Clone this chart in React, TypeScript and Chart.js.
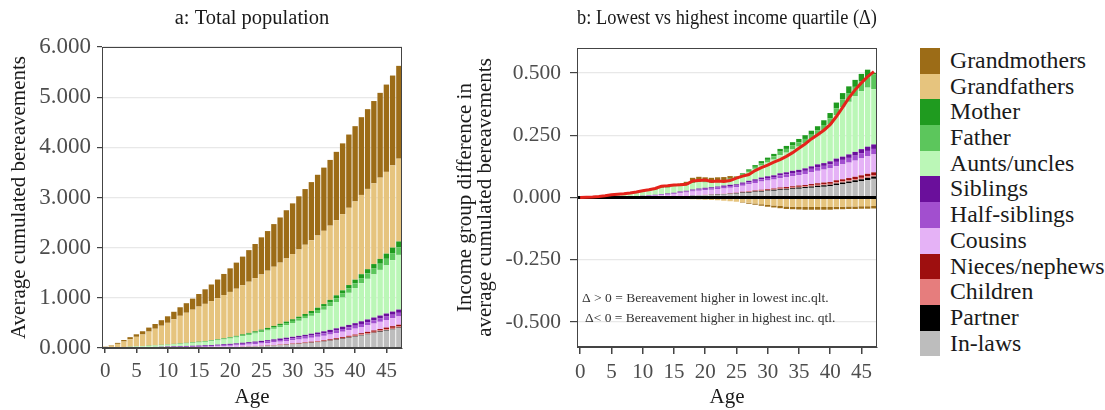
import React, { useEffect, useRef } from 'react';
import { Chart, registerables } from 'chart.js';

Chart.register(...registerables);

const FONT = "'Liberation Serif', 'Times New Roman', serif";

const AGES = ['0','1','2','3','4','5','6','7','8','9','10','11','12','13','14','15','16','17','18','19','20','21','22','23','24','25','26','27','28','29','30','31','32','33','34','35','36','37','38','39','40','41','42','43','44','45','46','47'];

const SERIES_NAMES = ['Grandmothers','Grandfathers','Mother','Father','Aunts/uncles','Siblings','Half-siblings','Cousins','Nieces/nephews','Children','Partner','In-laws'];
const SERIES_COLORS = ['#9c6c17','#e6c47e','#1f9b1f','#5cc65c','#bbf7b7','#6a0f9b','#a24fcf','#e5b2f6','#9e0f0f','#e67d7d','#000000','#bdbdbd'];

const TITLE_A = 'a: Total population';
const TITLE_B = 'b: Lowest vs highest income quartile (\u0394)';
const Y_TITLE_A = 'Average cumulated bereavements';
const Y_TITLE_B = ['Income group difference in', 'average cumulated bereavements'];
const X_TITLE = 'Age';
const Y_TICKS_A = [0, 1, 2, 3, 4, 5, 6];
const Y_TICKS_B = [-0.5, -0.25, 0, 0.25, 0.5];
const NOTE_LINES = ['\u0394 > 0 = Bereavement higher in lowest inc.qlt.', '\u0394< 0 = Bereavement higher in highest inc. qtl.'];

// ---- Panel a: total population (cumulated bereavements) ----
const aGrandmothers = [0.005,0.01,0.02,0.03,0.04,0.05,0.065,0.08,0.095,0.11,
  0.13,0.15,0.17,0.19,0.22,0.25,0.29,0.33,0.37,0.42,
  0.47,0.52,0.57,0.63,0.68,0.74,0.79,0.85,0.90,0.96,
  1.01,1.06,1.11,1.16,1.21,1.26,1.31,1.36,1.41,1.46,
  1.50,1.55,1.59,1.64,1.69,1.74,1.79,1.85];
const aGrandfathers = [0.02,0.04,0.07,0.11,0.15,0.19,0.23,0.28,0.33,0.38,
  0.43,0.49,0.55,0.60,0.65,0.70,0.74,0.78,0.82,0.86,
  0.90,0.94,0.98,1.02,1.06,1.10,1.14,1.18,1.22,1.26,
  1.30,1.34,1.38,1.41,1.44,1.46,1.48,1.50,1.52,1.54,
  1.56,1.58,1.60,1.61,1.62,1.63,1.64,1.65];
const aMother = [0,0,0.001,0.001,0.002,0.002,0.002,0.003,0.003,0.004,
  0.004,0.005,0.005,0.006,0.006,0.007,0.008,0.009,0.010,0.011,
  0.012,0.013,0.015,0.017,0.019,0.021,0.023,0.025,0.027,0.030,
  0.033,0.036,0.039,0.042,0.046,0.050,0.054,0.058,0.063,0.068,
  0.073,0.078,0.084,0.090,0.096,0.103,0.110,0.118];
const aFather = [0,0.001,0.001,0.002,0.002,0.003,0.003,0.004,0.004,0.005,
  0.005,0.006,0.007,0.008,0.009,0.010,0.011,0.012,0.014,0.016,
  0.018,0.020,0.022,0.024,0.026,0.028,0.030,0.033,0.036,0.039,
  0.042,0.046,0.050,0.054,0.059,0.064,0.069,0.075,0.081,0.087,
  0.094,0.101,0.108,0.115,0.123,0.131,0.140,0.150];
const aAunts = [0.002,0.004,0.007,0.010,0.013,0.016,0.019,0.022,0.026,0.030,
  0.034,0.038,0.043,0.048,0.054,0.060,0.067,0.075,0.084,0.094,
  0.105,0.117,0.130,0.144,0.159,0.175,0.192,0.210,0.230,0.252,
  0.275,0.300,0.327,0.356,0.390,0.430,0.475,0.525,0.580,0.640,
  0.700,0.760,0.810,0.860,0.910,0.960,1.025,1.090];
const aSiblings = [0,0.001,0.002,0.003,0.004,0.005,0.006,0.007,0.008,0.009,
  0.010,0.011,0.012,0.013,0.014,0.015,0.016,0.017,0.018,0.019,
  0.020,0.021,0.022,0.023,0.024,0.025,0.026,0.028,0.029,0.030,
  0.032,0.033,0.035,0.037,0.039,0.041,0.043,0.045,0.047,0.049,
  0.051,0.053,0.055,0.057,0.059,0.061,0.063,0.065];
const aHalfSiblings = [0,0,0.001,0.002,0.003,0.004,0.005,0.006,0.007,0.008,
  0.009,0.010,0.011,0.012,0.013,0.014,0.015,0.016,0.017,0.018,
  0.019,0.020,0.022,0.024,0.026,0.028,0.030,0.032,0.034,0.036,
  0.038,0.040,0.042,0.044,0.046,0.048,0.050,0.052,0.054,0.056,
  0.058,0.060,0.062,0.064,0.066,0.068,0.070,0.072];
const aCousins = [0,0,0,0.001,0.002,0.003,0.004,0.005,0.006,0.008,
  0.010,0.012,0.014,0.016,0.018,0.020,0.022,0.024,0.026,0.028,
  0.030,0.033,0.036,0.039,0.042,0.045,0.048,0.052,0.056,0.060,
  0.064,0.068,0.073,0.078,0.083,0.088,0.094,0.100,0.106,0.112,
  0.118,0.124,0.130,0.137,0.144,0.151,0.158,0.165];
const aNieces = [0,0,0,0,0,0,0,0,0,0,
  0,0,0,0,0,0,0,0,0,0,
  0.001,0.001,0.002,0.002,0.003,0.003,0.004,0.005,0.006,0.007,
  0.008,0.009,0.010,0.011,0.012,0.013,0.014,0.015,0.017,0.019,
  0.021,0.023,0.025,0.027,0.029,0.031,0.033,0.035];
const aChildren = [0,0,0,0,0,0,0,0,0,0,
  0,0,0,0,0,0,0.001,0.001,0.001,0.002,
  0.002,0.002,0.003,0.003,0.004,0.004,0.005,0.005,0.006,0.006,
  0.007,0.008,0.008,0.009,0.010,0.010,0.011,0.012,0.013,0.014,
  0.015,0.016,0.017,0.018,0.019,0.020,0.021,0.022];
const aPartner = [0,0,0,0,0,0,0,0,0,0,
  0,0,0,0,0,0,0,0,0.001,0.001,
  0.001,0.001,0.002,0.002,0.002,0.003,0.003,0.003,0.004,0.004,
  0.004,0.005,0.005,0.006,0.006,0.007,0.007,0.008,0.008,0.009,
  0.009,0.010,0.010,0.011,0.011,0.012,0.012,0.013];
const aInlaws = [0,0,0,0,0,0,0,0,0,0,
  0,0,0,0,0,0,0,0.002,0.004,0.007,
  0.010,0.014,0.018,0.023,0.028,0.034,0.040,0.047,0.054,0.062,
  0.070,0.079,0.089,0.100,0.112,0.125,0.142,0.160,0.180,0.201,
  0.223,0.246,0.270,0.294,0.319,0.344,0.369,0.394];

// ---- Panel b: lowest minus highest income quartile ----
const bGrandmothers = [0,0,0,0,0,0,0,0,0,0,
  0,0,0,0,0,0,0.002,0.006,0.012,0.013,
  0.014,0.014,0.013,0.012,0.010,0.002,-0.002,-0.004,-0.005,-0.006,
  -0.007,-0.008,-0.009,-0.010,-0.010,-0.010,-0.011,-0.011,-0.011,-0.011,
  -0.011,-0.010,-0.010,-0.010,-0.010,-0.010,-0.010,-0.010];
const bGrandfathers = [0,0,0,0,0,0,0,0,0,-0.001,
  -0.002,-0.002,-0.003,-0.003,-0.004,-0.005,-0.006,-0.006,-0.007,-0.008,
  -0.009,-0.010,-0.011,-0.013,-0.015,-0.017,-0.019,-0.021,-0.024,-0.027,
  -0.030,-0.032,-0.034,-0.036,-0.037,-0.038,-0.038,-0.038,-0.038,-0.038,
  -0.038,-0.037,-0.037,-0.036,-0.036,-0.035,-0.035,-0.034];
const bMother = [0,0,0,0,0.001,0.001,0.001,0.001,0.001,0.002,
  0.002,0.002,0.002,0.003,0.003,0.003,0.003,0.003,0.004,0.004,
  0.003,0.003,0.003,0.003,0.003,0.004,0.005,0.006,0.007,0.008,
  0.009,0.010,0.011,0.012,0.013,0.014,0.015,0.016,0.017,0.019,
  0.021,0.023,0.025,0.027,0.028,0.029,0.030,0.005];
const bFather = [0,0,0,0.001,0.001,0.001,0.002,0.002,0.002,0.002,
  0.003,0.003,0.003,0.004,0.004,0.004,0.004,0.004,0.005,0.005,
  0.004,0.004,0.004,0.004,0.004,0.005,0.006,0.007,0.008,0.010,
  0.011,0.013,0.014,0.015,0.016,0.017,0.018,0.019,0.020,0.022,
  0.025,0.028,0.032,0.035,0.038,0.040,0.042,0.060];
const bAunts = [0,0.001,0.002,0.003,0.005,0.007,0.008,0.009,0.011,0.013,
  0.015,0.017,0.020,0.023,0.023,0.025,0.023,0.023,0.026,0.025,
  0.021,0.017,0.017,0.015,0.018,0.021,0.026,0.033,0.042,0.048,
  0.055,0.063,0.073,0.079,0.086,0.093,0.100,0.108,0.116,0.131,
  0.148,0.174,0.198,0.211,0.223,0.233,0.237,0.222];
const bSiblings = [0,0,0,0,0,0,0,0,0.001,0.001,
  0.001,0.001,0.002,0.002,0.002,0.002,0.003,0.003,0.003,0.004,
  0.004,0.004,0.004,0.005,0.005,0.005,0.005,0.006,0.006,0.007,
  0.007,0.007,0.008,0.008,0.009,0.009,0.010,0.010,0.011,0.011,
  0.012,0.013,0.013,0.014,0.015,0.016,0.017,0.018];
const bHalfSiblings = [0,0,0,0,0,0,0,0.001,0.001,0.001,
  0.002,0.002,0.002,0.003,0.003,0.003,0.004,0.004,0.005,0.005,
  0.006,0.006,0.006,0.007,0.007,0.007,0.008,0.008,0.009,0.009,
  0.010,0.010,0.011,0.011,0.012,0.012,0.013,0.014,0.015,0.015,
  0.016,0.017,0.018,0.019,0.020,0.021,0.022,0.022];
const bCousins = [0,0,0,0,0,0.001,0.001,0.002,0.002,0.003,
  0.004,0.005,0.006,0.007,0.008,0.010,0.012,0.014,0.016,0.018,
  0.018,0.019,0.020,0.021,0.022,0.022,0.024,0.027,0.030,0.033,
  0.035,0.036,0.038,0.040,0.041,0.042,0.044,0.047,0.050,0.052,
  0.055,0.057,0.060,0.062,0.065,0.068,0.070,0.072];
const bNieces = [0,0,0,0,0,0,0,0,0,0,
  0,0,0,0,0,0,0,0,0,0,
  0,0,0,0,0.001,0.001,0.001,0.002,0.002,0.003,
  0.003,0.003,0.004,0.004,0.005,0.005,0.005,0.006,0.006,0.007,
  0.007,0.008,0.008,0.009,0.009,0.010,0.010,0.011];
const bChildren = [0,0,0,0,0,0,0,0,0,0,
  0,0,0,0,0,0,0,0,0,0,
  0.001,0.001,0.001,0.001,0.001,0.001,0.002,0.002,0.002,0.002,
  0.002,0.002,0.003,0.003,0.003,0.003,0.003,0.004,0.004,0.004,
  0.004,0.005,0.005,0.005,0.005,0.006,0.006,0.006];
const bPartner = [0,0,0,0,0,0,0,0,0,0,
  0,0,0,0,0,0,0,0,0.001,0.001,
  0.001,0.001,0.002,0.002,0.002,0.002,0.003,0.003,0.003,0.003,
  0.003,0.004,0.004,0.004,0.004,0.005,0.005,0.005,0.006,0.006,
  0.006,0.007,0.007,0.007,0.008,0.008,0.009,0.009];
const bInlaws = [0,0,0,0,0,0,0,0,0,0,
  0,0.001,0.001,0.002,0.003,0.004,0.005,0.006,0.007,0.008,
  0.009,0.010,0.011,0.012,0.013,0.015,0.017,0.019,0.021,0.023,
  0.025,0.027,0.029,0.031,0.033,0.035,0.037,0.039,0.041,0.043,
  0.045,0.049,0.053,0.057,0.061,0.065,0.070,0.075];
const bNetTotal = [0,0.001,0.002,0.004,0.007,0.011,0.013,0.015,0.018,0.022,
  0.027,0.031,0.036,0.045,0.047,0.050,0.051,0.053,0.066,0.068,
  0.070,0.064,0.066,0.064,0.068,0.078,0.086,0.092,0.108,0.120,
  0.130,0.142,0.152,0.165,0.180,0.198,0.215,0.235,0.252,0.270,
  0.292,0.325,0.362,0.400,0.432,0.460,0.485,0.505];

const SERIES_A = [aGrandmothers, aGrandfathers, aMother, aFather, aAunts, aSiblings, aHalfSiblings, aCousins, aNieces, aChildren, aPartner, aInlaws];
const SERIES_B = [bGrandmothers, bGrandfathers, bMother, bFather, bAunts, bSiblings, bHalfSiblings, bCousins, bNieces, bChildren, bPartner, bInlaws];

const AXIS_COLOR = '#444444';
const TICK_TEXT = '#4d4d4d';
const TEXT = '#1a1a1a';
const GRID = '#e8e8e8';

function barDatasets(series: number[][]) {
  const out: any[] = [];
  for (let i = series.length - 1; i >= 0; i--) {
    out.push({
      type: 'bar',
      label: SERIES_NAMES[i],
      data: series[i],
      backgroundColor: SERIES_COLORS[i],
      borderWidth: 0,
      barPercentage: 0.86,
      categoryPercentage: 1.0,
      order: 2,
    });
  }
  return out;
}

const boxPlugin = {
  id: 'panelBox',
  afterDatasetsDraw(chart: any) {
    const { ctx, chartArea: a } = chart;
    ctx.save();
    ctx.strokeStyle = AXIS_COLOR;
    ctx.lineWidth = 1;
    ctx.strokeRect(Math.round(a.left) + 0.5, Math.round(a.top) + 0.5, Math.round(a.right - a.left) - 1, Math.round(a.bottom - a.top) - 1);
    ctx.restore();
  },
};

const zeroLinePlugin = {
  id: 'zeroLine',
  beforeDatasetDraw(chart: any, args: any) {
    const ds = chart.data.datasets[args.index];
    if (ds.type !== 'line') return;
    const { ctx, chartArea: a, scales } = chart;
    const y = scales.y.getPixelForValue(0);
    ctx.save();
    ctx.strokeStyle = '#000000';
    ctx.lineWidth = 3;
    ctx.beginPath();
    ctx.moveTo(a.left, y);
    ctx.lineTo(a.right, y);
    ctx.stroke();
    ctx.restore();
  },
};

const notePlugin = {
  id: 'deltaNote',
  afterDatasetsDraw(chart: any) {
    const { ctx, chartArea: a, scales } = chart;
    ctx.save();
    ctx.font = `13.5px ${FONT}`;
    ctx.fillStyle = '#333333';
    ctx.textAlign = 'left';
    ctx.textBaseline = 'middle';
    ctx.fillText(NOTE_LINES[0], a.left + 5, scales.y.getPixelForValue(-0.405));
    ctx.fillText(NOTE_LINES[1], a.left + 8, scales.y.getPixelForValue(-0.486));
    ctx.restore();
  },
};

function xScale(height: number, tickLen: number) {
  const tickCol = (c: any) => (c.index % 5 === 0 ? AXIS_COLOR : 'rgba(0,0,0,0)');
  return {
    stacked: true,
    offset: true,
    grid: { display: true, drawOnChartArea: false, drawTicks: true, tickLength: tickLen, offset: false, color: tickCol, tickColor: tickCol, lineWidth: 1.5 },
    border: { display: true, color: AXIS_COLOR },
    ticks: {
      autoSkip: false, maxRotation: 0, minRotation: 0, padding: 6,
      font: { family: FONT, size: 21 }, color: TICK_TEXT,
      callback: (_v: any, i: number) => (i % 5 === 0 ? AGES[i] : ''),
    },
    title: { display: true, text: X_TITLE, font: { family: FONT, size: 21 }, color: TEXT, padding: { top: 0, bottom: 0 } },
    afterFit: (s: any) => { s.height = height; },
  };
}

function App() {
  const refA = useRef<HTMLCanvasElement>(null);
  const refB = useRef<HTMLCanvasElement>(null);

  useEffect(() => {
    const chartA = new Chart(refA.current as HTMLCanvasElement, {
      type: 'bar',
      data: { labels: AGES, datasets: barDatasets(SERIES_A) },
      options: {
        responsive: false,
        animation: false,
        devicePixelRatio: 1,
        layout: { padding: { left: 0, right: 8, top: 0, bottom: 0 } },
        plugins: {
          legend: { display: false },
          tooltip: { enabled: false },
          title: { display: true, text: TITLE_A, fullSize: false, color: TEXT, font: { family: FONT, size: 20.5, weight: 'normal' }, padding: { top: 6, bottom: 16.4 } },
        },
        scales: {
          x: xScale(62, 5),
          y: {
            stacked: true, min: 0, max: 6,
            afterBuildTicks: (s: any) => { s.ticks = Y_TICKS_A.map((v) => ({ value: v })); },
            grid: { color: GRID, tickColor: AXIS_COLOR, tickLength: 5, lineWidth: 1.2 },
            border: { display: true, color: AXIS_COLOR },
            ticks: { padding: 6, font: { family: FONT, size: 23 }, color: TICK_TEXT, callback: (v: any) => Number(v).toFixed(3) },
            title: { display: true, text: Y_TITLE_A, font: { family: FONT, size: 21 }, color: TEXT, padding: { top: 7, bottom: 0 } },
            afterFit: (s: any) => { s.width = 102; },
          },
        },
      } as any,
      plugins: [boxPlugin],
    } as any);

    const chartB = new Chart(refB.current as HTMLCanvasElement, {
      type: 'bar',
      data: {
        labels: AGES,
        datasets: [
          {
            type: 'line', label: 'Net difference', data: bNetTotal, borderColor: '#e5231b', borderWidth: 3,
            pointRadius: 0, tension: 0, fill: false, stack: 'net', order: 0,
          },
          ...barDatasets(SERIES_B),
        ],
      },
      options: {
        responsive: false,
        animation: false,
        devicePixelRatio: 1,
        layout: { padding: { left: 0, right: 3, top: 0, bottom: 0 } },
        plugins: {
          legend: { display: false },
          tooltip: { enabled: false },
          title: { display: true, text: TITLE_B, fullSize: false, color: TEXT, font: { family: FONT, size: 20.5, weight: 'normal' }, padding: { top: 6, bottom: 17.4 } },
        },
        scales: {
          x: xScale(63, 7),
          y: {
            stacked: true, min: -0.6, max: 0.6,
            afterBuildTicks: (s: any) => { s.ticks = Y_TICKS_B.map((v) => ({ value: v })); },
            grid: { color: GRID, tickColor: AXIS_COLOR, tickLength: 7, lineWidth: 1.2 },
            border: { display: true, color: AXIS_COLOR },
            ticks: { padding: 9, font: { family: FONT, size: 21.5 }, color: TICK_TEXT, callback: (v: any) => Number(v).toFixed(3) },
            title: { display: true, text: Y_TITLE_B, font: { family: FONT, size: 21, lineHeight: 0.97 }, color: TEXT, padding: { top: 15, bottom: 0 } },
            afterFit: (s: any) => { s.width = 137; },
          },
        },
      } as any,
      plugins: [zeroLinePlugin, boxPlugin, notePlugin],
    } as any);

    return () => {
      chartA.destroy();
      chartB.destroy();
    };
  }, []);

  return (
    <div style={{ position: 'absolute', left: 0, top: 0, width: 1105, height: 410, overflow: 'hidden', background: '#ffffff' }}>
      <canvas ref={refA} width={410} height={410} style={{ position: 'absolute', left: 0, top: 0, width: 410, height: 410 }} />
      <canvas ref={refB} width={440} height={410} style={{ position: 'absolute', left: 440, top: 0, width: 440, height: 410 }} />
      <div style={{ position: 'absolute', left: 920, top: 48 }}>
        {SERIES_NAMES.map((name, i) => (
          <div key={name} style={{ display: 'flex', alignItems: 'center', height: 25.7 }}>
            <div style={{ width: 20, height: 25.7, background: SERIES_COLORS[i], flexShrink: 0 }} />
            <span style={{ marginLeft: 10, fontFamily: FONT, fontSize: 23.8, lineHeight: '25.7px', color: TEXT, whiteSpace: 'nowrap' }}>{name}</span>
          </div>
        ))}
      </div>
    </div>
  );
}

export default App;
